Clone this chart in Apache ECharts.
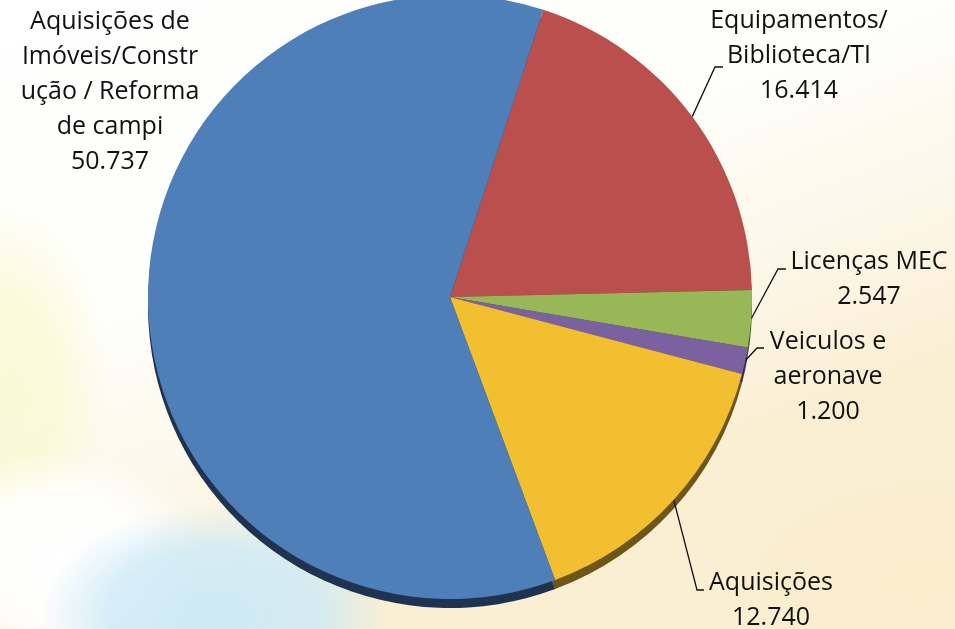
<!DOCTYPE html>
<html>
<head>
<meta charset="utf-8">
<script src="https://cdn.jsdelivr.net/npm/echarts@6/dist/echarts.min.js"></script>
<style>
  html, body { margin: 0; padding: 0; background: #fff; }
  #chart { width: 955px; height: 629px; }
</style>
</head>
<body>
<div id="chart"></div>
<script>
// slices in clockwise order, starting from the red one
const categories = ['Equipamentos/\nBiblioteca/TI', 'Licenças MEC', 'Veiculos e\naeronave', 'Aquisições', 'Aquisições de\nImóveis/Constr\nução / Reforma\nde campi']
const values = [16414, 2547, 1200, 12740, 50737]
const colors = ['#B9504D', '#98B858', '#7B61A0', '#F1BF30', '#4F7FB8']
const edgeColors = ['#5C2826', '#4C5C2C', '#3D3050', '#6E5619', '#1F3350']

// label block anchor (center / top) and leader line bend + end
const labelSpots = [
  { x: 799, y: 3, bend: [715, 67], end: [723, 67] },
  { x: 869, y: 244, bend: [778, 269], end: [786, 269] },
  { x: 828, y: 324, bend: [757, 348], end: [764, 348] },
  { x: 771, y: 565, bend: [697, 590], end: [704, 590] },
  { x: 110, y: 4 }
]

function fmt(v) {
  return String(v).replace(/\B(?=(\d{3})+(?!\d))/g, '.')
}

// soft background patch: a circle with a fading radial fill, squashed
function blob(cx, cy, rx, ry, rgb, alpha, solid) {
  return {
    type: 'circle', z: -10, silent: true,
    x: cx, y: cy, scaleY: ry / rx,
    shape: { cx: 0, cy: 0, r: rx },
    style: {
      fill: {
        type: 'radial', x: 0.5, y: 0.5, r: 0.5,
        colorStops: [
          { offset: 0, color: 'rgba(' + rgb + ',' + alpha + ')' },
          { offset: solid, color: 'rgba(' + rgb + ',' + alpha * 0.85 + ')' },
          { offset: 1, color: 'rgba(' + rgb + ',0)' }
        ]
      }
    }
  }
}

const chart = echarts.init(document.getElementById('chart'))

chart.setOption({
  backgroundColor: {
    type: 'linear', x: 0, y: 0, x2: 0.25, y2: 1,
    colorStops: [
      { offset: 0, color: '#FFFFFF' },
      { offset: 0.5, color: '#FEFEFA' },
      { offset: 0.8, color: '#FCF6E6' },
      { offset: 1, color: '#FAEFD3' }
    ]
  },
  graphic: [
    blob(0, 390, 110, 190, '250,248,205', 0.8, 0.5),
    blob(60, 560, 150, 110, '255,255,255', 1, 0.6),
    blob(215, 615, 175, 110, '204,234,247', 0.95, 0.6),
    blob(920, 580, 220, 130, '250,236,200', 0.6, 0.4)
  ],
  series: [
    {
      // dark rim underneath for the tilted look
      type: 'pie',
      silent: true,
      z: 1,
      center: [450, 306],
      radius: 302,
      startAngle: 72,
      clockwise: true,
      label: { show: false },
      labelLine: { show: false },
      data: values.map((v, i) => ({ value: v, name: categories[i], itemStyle: { color: edgeColors[i] } }))
    },
    {
      type: 'pie',
      z: 2,
      center: [450, 297],
      radius: 302,
      startAngle: 72,
      clockwise: true,
      avoidLabelOverlap: false,
      emphasis: { disabled: true },
      label: {
        show: true,
        position: 'outside',
        formatter: p => p.name + '\n' + fmt(p.value),
        fontFamily: 'Open Sans',
        fontSize: 25,
        lineHeight: 35,
        color: '#111',
        align: 'center'
      },
      labelLine: {
        show: true,
        lineStyle: { color: '#111', width: 1.3 }
      },
      labelLayout: function (p) {
        const s = labelSpots[p.dataIndex]
        const out = { x: s.x, y: s.y, align: 'center', verticalAlign: 'top' }
        if (s.bend && p.labelLinePoints) {
          out.labelLinePoints = [p.labelLinePoints[0], s.bend, s.end]
        }
        return out
      },
      data: values.map((v, i) => ({
        value: v,
        name: categories[i],
        itemStyle: { color: colors[i] },
        labelLine: { show: i !== 4 }
      }))
    }
  ]
})
</script>
</body>
</html>
